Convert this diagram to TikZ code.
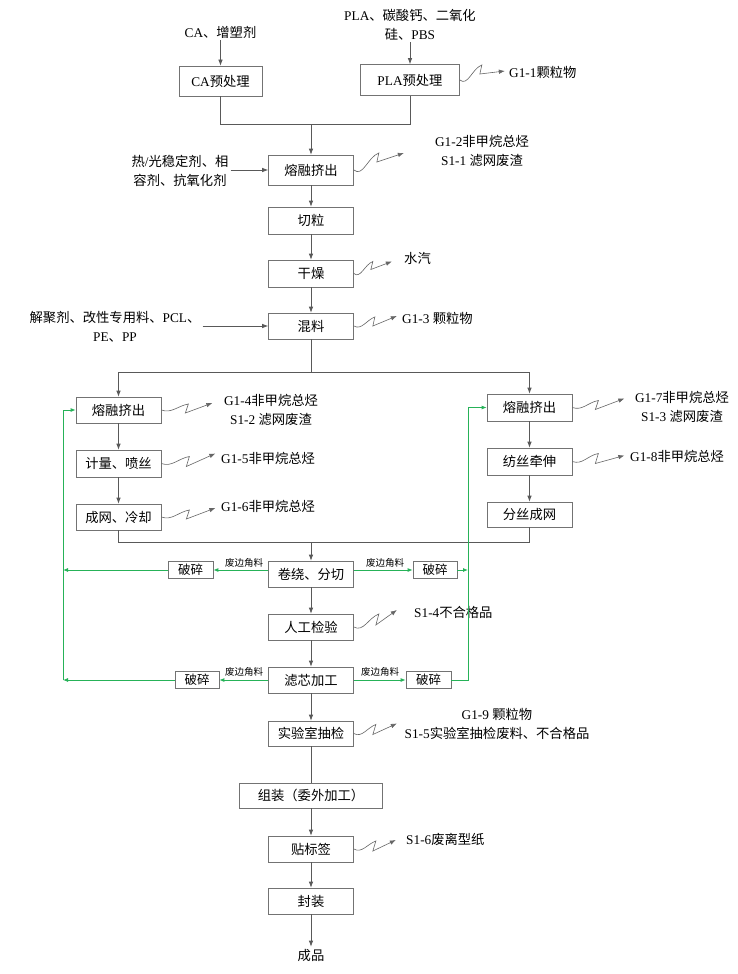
\documentclass[tikz,border=0pt]{standalone}
\usepackage{fontspec}
\setmainfont{Liberation Serif}
\newfontfamily\cjk{Noto Sans CJK SC}
\usetikzlibrary{arrows.meta}
\XeTeXinterchartokenstate=1
\newXeTeXintercharclass\CJKcls
\count255="3000
\loop\XeTeXcharclass\count255=\CJKcls\ifnum\count255<"303F \advance\count255 by 1 \repeat
\count255="4E00
\loop\XeTeXcharclass\count255=\CJKcls\ifnum\count255<"9FFF \advance\count255 by 1 \repeat
\count255="FF00
\loop\XeTeXcharclass\count255=\CJKcls\ifnum\count255<"FFEF \advance\count255 by 1 \repeat
\XeTeXinterchartoks 0 \CJKcls = {\cjk}
\XeTeXinterchartoks 4095 \CJKcls = {\cjk}
\XeTeXinterchartoks \CJKcls 0 = {\rmfamily}
\definecolor{grn}{RGB}{38,178,88}
\begin{document}
\begin{tikzpicture}[x=1pt,y=-1pt,
  font={\fontsize{13.3}{18.5}\selectfont},
  box/.style={draw=black!55, line width=0.7pt, minimum width=85pt, minimum height=27pt, inner sep=0pt, fill=white},
  cbox/.style={box, minimum width=45pt, minimum height=17pt, font={\fontsize{12.5}{14}\selectfont}},
  txt/.style={inner sep=2pt, align=center},
  flow/.style={draw=black!65, line width=0.7pt},
  arr/.style={flow, -{Latex[length=6pt,width=4.5pt]}},
  sq/.style={draw=black!60, line width=0.6pt, -{Latex[length=6pt,width=4.5pt]}},
  garr/.style={draw=grn, line width=0.9pt, -{Latex[length=5pt,width=4pt]}},
  small/.style={inner sep=0pt, font={\fontsize{9.5}{11}\selectfont}}
]
\fill[white] (0,0) rectangle (737,974);
\useasboundingbox (0,0) rectangle (737,974);

% top
\node[txt] (caT) at (220.5,32) {CA、增塑剂};
\node[txt] (plaT) at (410,25) {PLA、碳酸钙、二氧化\\硅、PBS};
\node[box, minimum width=83pt, minimum height=30pt] (caP) at (220.5,81) {CA预处理};
\node[box, minimum width=99pt, minimum height=31pt] (plaP) at (410,80) {PLA预处理};
\node[txt, anchor=west] (g11) at (507,72) {G1-1颗粒物};
\coordinate (j1) at (311,124);
\node[box, minimum height=30pt] (melt1) at (311,170) {熔融挤出};
\node[txt] (heatT) at (180,171) {热/光稳定剂、相\\容剂、抗氧化剂};
\node[txt] (g12) at (482,151) {G1-2非甲烷总烃\\S1-1 滤网废渣};
\node[box] (cut) at (311,220.5) {切粒};
\node[box] (dry) at (311,273.5) {干燥};
\node[txt, anchor=west] (steam) at (402,258) {水汽};
\node[box, minimum height=26pt] (mix) at (311,326) {混料};
\node[txt] (mixT) at (115,327) {解聚剂、改性专用料、PCL、\\PE、PP};
\node[txt, anchor=west] (g13) at (400,318) {G1-3 颗粒物};
\coordinate (b) at (311,372);

% two lines
\node[box, minimum height=26pt] (Lmelt) at (118.5,410) {熔融挤出};
\node[box] (Rmelt) at (529.5,407.5) {熔融挤出};
\node[txt] (g14) at (271,410) {G1-4非甲烷总烃\\S1-2 滤网废渣};
\node[txt] (g17) at (682,407) {G1-7非甲烷总烃\\S1-3 滤网废渣};
\node[box] (Lmeter) at (118.5,463.5) {计量、喷丝};
\node[txt, anchor=west] (g15) at (219,458) {G1-5非甲烷总烃};
\node[box, minimum height=26pt] (Lweb) at (118.5,517) {成网、冷却};
\node[txt, anchor=west] (g16) at (219,506) {G1-6非甲烷总烃};
\node[box] (Rspin) at (529.5,461.5) {纺丝牵伸};
\node[txt, anchor=west] (g18) at (628,456) {G1-8非甲烷总烃};
\node[box, minimum height=25pt] (Rsplit) at (529.5,514.5) {分丝成网};
\coordinate (j2) at (311,542);

% lower column
\node[box, minimum height=26pt] (wind) at (311,574) {卷绕、分切};
\node[cbox] (Lc1) at (190.5,570) {破碎};
\node[cbox, minimum width=44pt] (Rc1) at (435,570) {破碎};
\node[box, minimum height=26pt] (insp) at (311,627) {人工检验};
\node[txt, anchor=west] (s14) at (412,612) {S1-4不合格品};
\node[box, minimum height=26pt] (filt) at (311,680) {滤芯加工};
\node[cbox, minimum width=44pt] (Lc2) at (197,680) {破碎};
\node[cbox] (Rc2) at (428.5,680) {破碎};
\node[box, minimum height=25pt] (lab) at (311,733.5) {实验室抽检};
\node[txt] (g19) at (497,724) {G1-9 颗粒物\\S1-5实验室抽检废料、不合格品};
\node[box, minimum width=143pt, minimum height=25pt] (asm) at (311,795.5) {组装（委外加工）};
\node[box, minimum height=26pt] (lbl) at (311,849) {贴标签};
\node[txt, anchor=west] (s16) at (404,839) {S1-6废离型纸};
\node[box, minimum height=26pt] (pack) at (311,901) {封装};
\node[txt] (prod) at (311,955) {成品};

% small labels
\node[small] (w1) at (244,563) {废边角料};
\node[small] (w2) at (385,563) {废边角料};
\node[small] (w3) at (244,672) {废边角料};
\node[small] (w4) at (380,672) {废边角料};

% green coordinates
\coordinate (Lv1) at (63,570);
\coordinate (Lv2) at (63,680);
\coordinate (Rv1) at (468,570);
\coordinate (Rv2) at (468,680);

% main flow
\draw[arr] (caT.south -| caP.north) -- (caP.north);
\draw[arr] (plaT.south -| plaP.north) -- (plaP.north);
\draw[flow] (caP.south) |- (j1);
\draw[flow] (plaP.south) |- (j1);
\draw[arr] (j1) -- (melt1.north);
\draw[arr] (heatT.east |- melt1.west) -- (melt1.west);
\draw[arr] (melt1) -- (cut);
\draw[arr] (cut) -- (dry);
\draw[arr] (dry) -- (mix);
\draw[arr] (mixT.east |- mix.west) -- (mix.west);
\draw[flow] (mix.south) -- (b);
\draw[arr] (b) -| (Lmelt.north);
\draw[arr] (b) -| (Rmelt.north);
\draw[arr] (Lmelt) -- (Lmeter);
\draw[arr] (Lmeter) -- (Lweb);
\draw[arr] (Rmelt) -- (Rspin);
\draw[arr] (Rspin) -- (Rsplit);
\draw[flow] (Lweb.south) |- (j2);
\draw[flow] (Rsplit.south) |- (j2);
\draw[arr] (j2) -- (wind.north);
\draw[arr] (wind) -- (insp);
\draw[arr] (insp) -- (filt);
\draw[arr] (filt) -- (lab);
\draw[flow] (lab) -- (asm);
\draw[arr] (asm) -- (lbl);
\draw[arr] (lbl) -- (pack);
\draw[arr] (pack) -- (prod);

% green recycle
\draw[garr] (wind.west |- Lc1.east) -- (Lc1.east);
\draw[garr] (Lc1.west) -- (Lv1);
\draw[garr] (wind.east |- Rc1.west) -- (Rc1.west);
\draw[garr] (Rc1.east) -- (Rv1);
\draw[garr] (filt.west) -- (Lc2.east);
\draw[garr] (Lc2.west) -- (Lv2);
\draw[garr] (filt.east) -- (Rc2.west);
\draw[garr] (Lv2) |- (Lmelt.west);
\draw[garr] (Rc2.east) -- (Rv2) |- (Rmelt.west);

% emissions (squiggles)
\draw[sq] (plaP.east) to[out=-40,in=200] ++(22,-15) -- ++(-2,9) -- ++(25,-3);
\draw[sq] (melt1.east) to[out=-40,in=200] ++(25,-17) -- ++(-2,9) -- ++(27,-9);
\draw[sq] (dry.east) to[out=-40,in=200] ++(19,-12) -- ++(-2,8) -- ++(21,-8);
\draw[sq] (mix.east) to[out=-30,in=200] ++(21,-9) -- ++(-2,9) -- ++(24,-10);
\draw[sq] (Lmelt.east) to[out=-20,in=190] ++(27,-6) -- ++(-3,9) -- ++(27,-10);
\draw[sq] (Lmeter.east) to[out=-20,in=190] ++(28,-7) -- ++(-3,10) -- ++(29,-13);
\draw[sq] (Lweb.east) to[out=-20,in=190] ++(28,-7) -- ++(-3,9) -- ++(29,-11);
\draw[sq] (Rmelt.east) to[out=-20,in=190] ++(26,-7) -- ++(-3,9) -- ++(29,-11);
\draw[sq] (Rspin.east) to[out=-20,in=190] ++(26,-8) -- ++(-3,10) -- ++(29,-8);
\draw[sq] (insp.east) to[out=-30,in=200] ++(25,-13) -- ++(-3,11) -- ++(21,-15);
\draw[sq] (lab.east) to[out=-30,in=200] ++(22,-9) -- ++(-3,10) -- ++(24,-11);
\draw[sq] (lbl.east) to[out=-30,in=200] ++(22,-8) -- ++(-3,10) -- ++(23,-11);
\end{tikzpicture}
\end{document}
